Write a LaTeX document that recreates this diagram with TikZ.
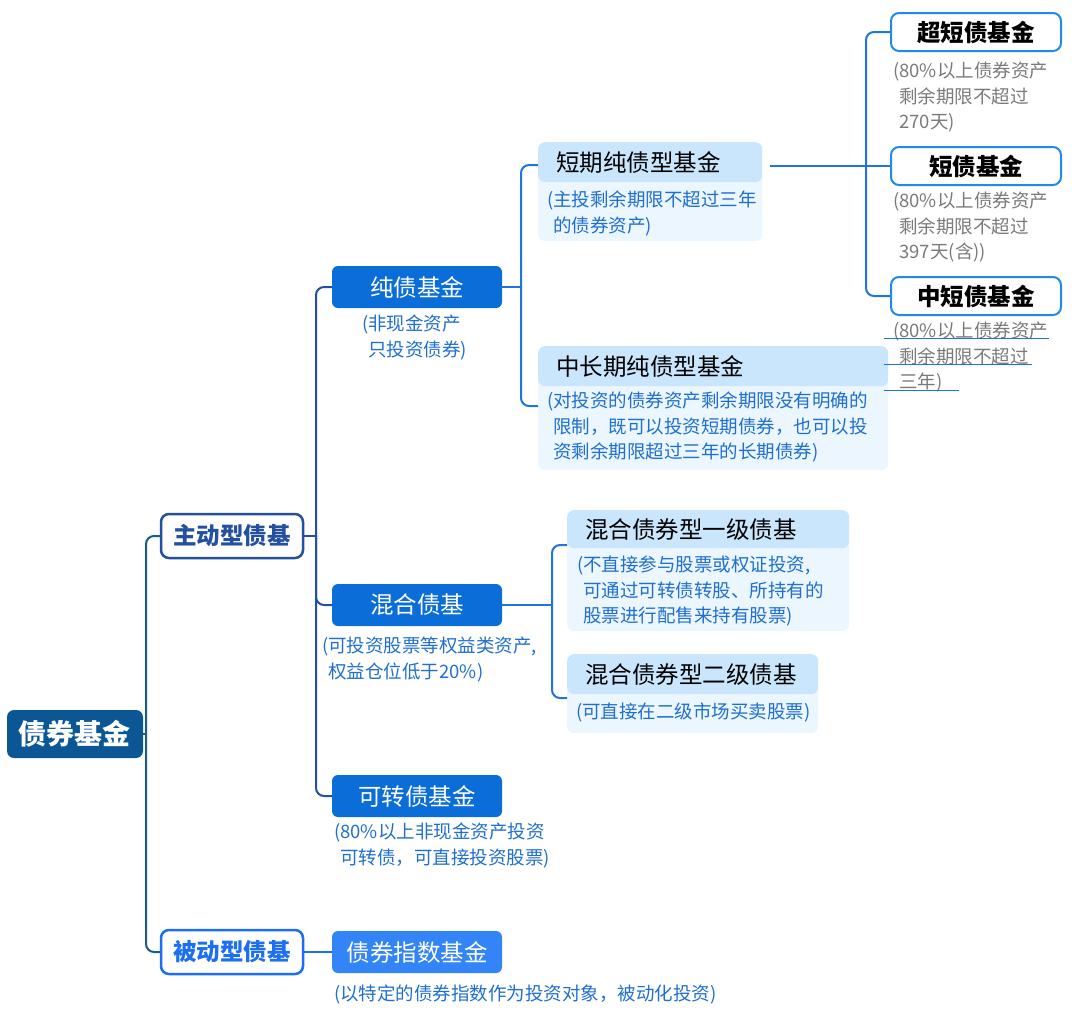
\documentclass[tikz,border=0pt]{standalone}
\usepackage{fontspec}
\setmainfont{Noto Sans CJK SC}
\definecolor{rootc}{HTML}{0B5694}
\definecolor{rootln}{HTML}{1A5B8E}
\definecolor{actc}{HTML}{2350A0}
\definecolor{pasc}{HTML}{1C6EF2}
\definecolor{twoc}{HTML}{0A6DD8}
\definecolor{idxc}{HTML}{3384F6}
\definecolor{thrln}{HTML}{1F74DE}
\definecolor{hdrc}{HTML}{C9E6FC}
\definecolor{bodyc}{HTML}{ECF6FE}
\definecolor{fourc}{HTML}{1E8AF0}
\definecolor{notec}{HTML}{1F6FD0}
\definecolor{grayc}{HTML}{7A7A7A}
\begin{document}
\begin{tikzpicture}[x=1pt, y=-1pt,
    rootbox/.style={fill=rootc, text=white, rounded corners=7pt, minimum width=136pt, minimum height=48pt,
        font=\bfseries\fontsize{28}{32}\selectfont},
    lvone/.style={draw=#1, text=#1, line width=2.5pt, fill=white, rounded corners=8pt, minimum width=142pt,
        minimum height=44pt, font=\bfseries\fontsize{23.5}{28}\selectfont},
    lvtwo/.style={fill=#1, text=white, rounded corners=6pt, minimum width=170pt, minimum height=42pt,
        font=\fontsize{23.5}{28}\selectfont},
    bodybox/.style={fill=bodyc, rounded corners=7pt, anchor=north west, inner sep=0pt},
    hdr/.style={fill=hdrc, rounded corners=7pt, anchor=north west, minimum height=40pt, inner xsep=18pt,
        align=left, text width=#1, font=\fontsize{23.5}{28}\selectfont},
    lvfour/.style={draw=fourc, line width=2pt, fill=white, rounded corners=8pt, minimum width=170pt,
        minimum height=38pt, font=\bfseries\fontsize{23.5}{28}\selectfont},
    note/.style={text=notec, anchor=north west, inner sep=0pt, align=left, font=\fontsize{18.5}{25.5}\selectfont},
    gnote/.style={note, text=grayc},
    lk/.style={draw=#1, line width=2pt, rounded corners=8pt}]
\useasboundingbox (0,0) rectangle (1080,1026);

% level 0 and 1
\node[rootbox] (root) at (75,734) {债券基金};
\node[lvone=actc] (zhudong) at (232,536) {主动型债基};
\node[lvone=pasc] (beidong) at (232,952) {被动型债基};

% level 2
\node[lvtwo=twoc] (chunzhai) at (417,287) {纯债基金};
\node[note] (chunzhai-n) at (362,315) {(非现金资产\\\hphantom{(}只投资债券)};
\node[lvtwo=twoc] (hunhe) at (417,605) {混合债基};
\node[note] (hunhe-n) at (322,637) {(可投资股票等权益类资产,\\\hphantom{(}权益仓位低于20\%)};
\node[lvtwo=twoc] (kezhuan) at (417,796) {可转债基金};
\node[note] (kezhuan-n) at (334,823) {(80\%以上非现金资产投资\\\hphantom{(}可转债，可直接投资股票)};
\node[lvtwo=idxc] (zhishu) at (417,952) {债券指数基金};
\node[note] (zhishu-n) at (334,985) {(以特定的债券指数作为投资对象，被动化投资)};

% level 3
\node[bodybox, minimum width=224pt, minimum height=99pt] (duanqi) at (538,142) {};
\node[hdr=188pt] (duanqi-h) at (538,142) {短期纯债型基金};
\node[note] (duanqi-n) at (547,191) {(主投剩余期限不超过三年\\\hphantom{(}的债券资产)};
\node[bodybox, minimum width=350pt, minimum height=124pt] (zhongchang) at (538,346) {};
\node[hdr=314pt] (zhongchang-h) at (538,346) {中长期纯债型基金};
\node[note] (zhongchang-n) at (547,392) {(对投资的债券资产剩余期限没有明确的\\\hphantom{(}限制，既可以投资短期债券，也可以投\\\hphantom{(}资剩余期限超过三年的长期债券)};
\node[bodybox, minimum width=282pt, minimum height=121pt] (yiji) at (567,510) {};
\node[hdr=246pt, minimum height=38pt] (yiji-h) at (567,510) {混合债券型一级债基};
\node[note] (yiji-n) at (577,556) {(不直接参与股票或权证投资,\\\hphantom{(}可通过可转债转股、所持有的\\\hphantom{(}股票进行配售来持有股票)};
\node[bodybox, minimum width=251pt, minimum height=79pt] (erji) at (567,654) {};
\node[hdr=215pt] (erji-h) at (567,654) {混合债券型二级债基};
\node[note] (erji-n) at (576,703) {(可直接在二级市场买卖股票)};

% level 4
\node[lvfour] (chaoduan) at (976,32) {超短债基金};
\node[gnote] (chaoduan-n) at (893,62) {(80\%以上债券资产\\\hphantom{(}剩余期限不超过\\\hphantom{(}270天)};
\node[lvfour] (duanzhai) at (976,166) {短债基金};
\node[gnote] (duanzhai-n) at (893,192) {(80\%以上债券资产\\\hphantom{(}剩余期限不超过\\\hphantom{(}397天(含))};
\node[lvfour] (zhongduan) at (976,296) {中短债基金};
\node[gnote] (zhongduan-n) at (893,322) {(80\%以上债券资产\\\hphantom{(}剩余期限不超过\\\hphantom{(}三年)};

% joints
\coordinate (rj) at (146,734);
\coordinate (zj) at (316,536);
\coordinate (cj) at (521,287);
\coordinate (hj) at (552,605);
\coordinate (qj) at (866,166);
\coordinate (duanqi-in) at (538,165);
\coordinate (zhongchang-in) at (538,406);
\coordinate (yiji-in) at (567,545);
\coordinate (erji-in) at (567,698);
\coordinate (duanqi-out) at (770,166);

% connectors
\draw[lk=rootln] (root.east) -- (rj);
\draw[lk=rootln] (rj) |- (zhudong.west);
\draw[lk=rootln] (rj) |- (beidong.west);
\draw[lk=actc] (zhudong.east) -- (zj);
\draw[lk=actc] (zj) |- (chunzhai.west);
\draw[lk=actc] (zj) |- (hunhe.west);
\draw[lk=actc] (zj) |- (kezhuan.west);
\draw[lk=pasc] (beidong.east) -- (zhishu.west);
\draw[lk=thrln] (chunzhai.east) -- (cj);
\draw[lk=thrln] (cj) |- (duanqi-in);
\draw[lk=thrln] (cj) |- (zhongchang-in);
\draw[lk=thrln] (hunhe.east) -- (hj);
\draw[lk=thrln] (hj) |- (yiji-in);
\draw[lk=thrln] (hj) |- (erji-in);
\draw[lk=thrln] (duanqi-out) -- (duanzhai.west);
\draw[lk=thrln] (qj) |- (chaoduan.west);
\draw[lk=thrln] (qj) |- (zhongduan.west);

% stray underlines under the last note
\draw[pasc, line width=1pt] (884,338) -- (1049,338);
\draw[pasc, line width=1pt] (884,364) -- (1032,364);
\draw[pasc, line width=1pt] (884,390) -- (959,390);
\end{tikzpicture}
\end{document}
